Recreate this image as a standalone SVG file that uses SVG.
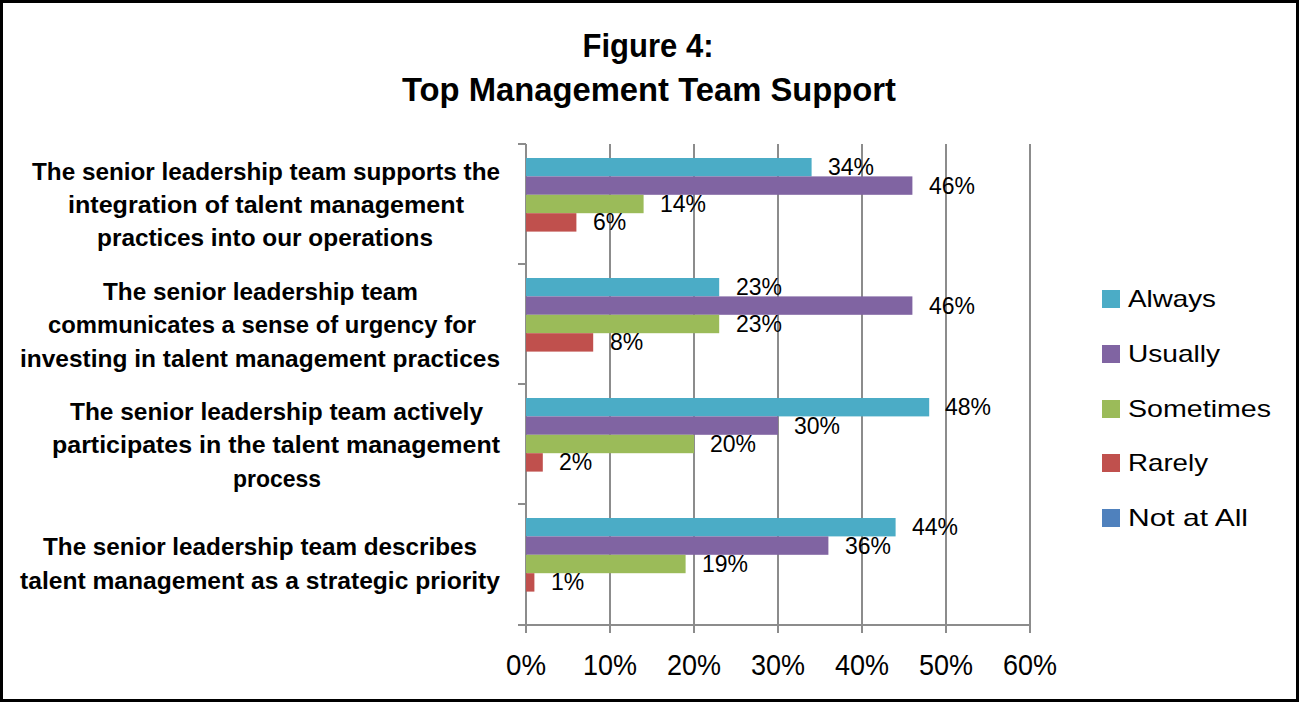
<svg xmlns="http://www.w3.org/2000/svg" width="1299" height="704" viewBox="0 0 1299 704">
<style>
.t{font-family:"Liberation Sans",Arial,sans-serif;fill:#000}
.title{font-size:34px;font-weight:bold}
.cat{font-size:24px;font-weight:bold}
.lbl{font-size:23px}
.ax{font-size:30px}
.leg{font-size:24px}
.grid{stroke:#8c8c8c;stroke-width:2;fill:none}
.a{fill:#4BACC6}.u{fill:#8064A2}.s{fill:#9BBB59}.r{fill:#C0504D}.n{fill:#4F81BD}
</style>
<rect x="0" y="0" width="1299" height="704" fill="#fff"/>
<rect x="1.5" y="1.5" width="1296" height="699" fill="#fff" stroke="#000" stroke-width="3"/>
<g id="title" class="t title" text-anchor="middle">
<text x="648" y="57" textLength="131" lengthAdjust="spacingAndGlyphs">Figure 4:</text>
<text x="649" y="101" textLength="494" lengthAdjust="spacingAndGlyphs">Top Management Team Support</text>
</g>
<g id="gridlines" class="grid">
<path d="M610 144V633M694 144V633M778 144V633M862 144V633M946 144V633M1030 144V633"/>
<path d="M526 144V633M518 625H1030"/>
<path d="M518 144H526M518 264H526M518 384H526M518 504H526"/>
</g>
<g id="category1">
<g class="t cat">
<text x="32" y="180" textLength="468" lengthAdjust="spacingAndGlyphs">The senior leadership team supports the</text>
<text x="68" y="213" textLength="396" lengthAdjust="spacingAndGlyphs">integration of talent management</text>
<text x="97" y="246" textLength="336" lengthAdjust="spacingAndGlyphs">practices into our operations</text>
</g>
<rect class="a" x="526" y="158" width="285.6" height="18.4"/>
<rect class="u" x="526" y="176.4" width="386.4" height="18.4"/>
<rect class="s" x="526" y="194.8" width="117.6" height="18.4"/>
<rect class="r" x="526" y="213.2" width="50.4" height="18.4"/>
<g class="t lbl">
<text x="828" y="175">34%</text>
<text x="929" y="194">46%</text>
<text x="660" y="212">14%</text>
<text x="593" y="230">6%</text>
</g>
</g>
<g id="category2">
<g class="t cat">
<text x="103" y="300" textLength="315" lengthAdjust="spacingAndGlyphs">The senior leadership team</text>
<text x="48" y="333" textLength="428" lengthAdjust="spacingAndGlyphs">communicates a sense of urgency for</text>
<text x="20" y="367" textLength="480" lengthAdjust="spacingAndGlyphs">investing in talent management practices</text>
</g>
<rect class="a" x="526" y="278" width="193.2" height="18.4"/>
<rect class="u" x="526" y="296.4" width="386.4" height="18.4"/>
<rect class="s" x="526" y="314.8" width="193.2" height="18.4"/>
<rect class="r" x="526" y="333.2" width="67.2" height="18.4"/>
<g class="t lbl">
<text x="736" y="295">23%</text>
<text x="929" y="314">46%</text>
<text x="736" y="332">23%</text>
<text x="610" y="350">8%</text>
</g>
</g>
<g id="category3">
<g class="t cat">
<text x="70" y="420" textLength="413" lengthAdjust="spacingAndGlyphs">The senior leadership team actively</text>
<text x="52" y="453" textLength="448" lengthAdjust="spacingAndGlyphs">participates in the talent management</text>
<text x="233" y="487" textLength="88" lengthAdjust="spacingAndGlyphs">process</text>
</g>
<rect class="a" x="526" y="398" width="403.2" height="18.4"/>
<rect class="u" x="526" y="416.4" width="252" height="18.4"/>
<rect class="s" x="526" y="434.8" width="168" height="18.4"/>
<rect class="r" x="526" y="453.2" width="16.8" height="18.4"/>
<g class="t lbl">
<text x="945" y="415">48%</text>
<text x="794" y="434">30%</text>
<text x="710" y="452">20%</text>
<text x="559" y="470">2%</text>
</g>
</g>
<g id="category4">
<g class="t cat">
<text x="43" y="555" textLength="434" lengthAdjust="spacingAndGlyphs">The senior leadership team describes</text>
<text x="20" y="589" textLength="480" lengthAdjust="spacingAndGlyphs">talent management as a strategic priority</text>
</g>
<rect class="a" x="526" y="518" width="369.6" height="18.4"/>
<rect class="u" x="526" y="536.4" width="302.4" height="18.4"/>
<rect class="s" x="526" y="554.8" width="159.6" height="18.4"/>
<rect class="r" x="526" y="573.2" width="8.4" height="18.4"/>
<g class="t lbl">
<text x="912" y="535">44%</text>
<text x="845" y="554">36%</text>
<text x="702" y="572">19%</text>
<text x="551" y="590">1%</text>
</g>
</g>
<g id="x-axis-labels" class="t ax" text-anchor="middle">
<text x="526" y="675" textLength="40" lengthAdjust="spacingAndGlyphs">0%</text>
<text x="610" y="675" textLength="54" lengthAdjust="spacingAndGlyphs">10%</text>
<text x="694" y="675" textLength="54" lengthAdjust="spacingAndGlyphs">20%</text>
<text x="778" y="675" textLength="54" lengthAdjust="spacingAndGlyphs">30%</text>
<text x="862" y="675" textLength="54" lengthAdjust="spacingAndGlyphs">40%</text>
<text x="946" y="675" textLength="54" lengthAdjust="spacingAndGlyphs">50%</text>
<text x="1030" y="675" textLength="54" lengthAdjust="spacingAndGlyphs">60%</text>
</g>
<g id="legend">
<rect class="a" x="1102" y="290" width="18" height="18"/>
<rect class="u" x="1102" y="345" width="18" height="18"/>
<rect class="s" x="1102" y="400" width="18" height="18"/>
<rect class="r" x="1102" y="454" width="18" height="18"/>
<rect class="n" x="1102" y="509" width="18" height="18"/>
<g class="t leg">
<text x="1128" y="307" textLength="88" lengthAdjust="spacingAndGlyphs">Always</text>
<text x="1128" y="362" textLength="92" lengthAdjust="spacingAndGlyphs">Usually</text>
<text x="1128" y="417" textLength="143" lengthAdjust="spacingAndGlyphs">Sometimes</text>
<text x="1128" y="471" textLength="80" lengthAdjust="spacingAndGlyphs">Rarely</text>
<text x="1128" y="526" textLength="120" lengthAdjust="spacingAndGlyphs">Not at All</text>
</g>
</g>
</svg>
